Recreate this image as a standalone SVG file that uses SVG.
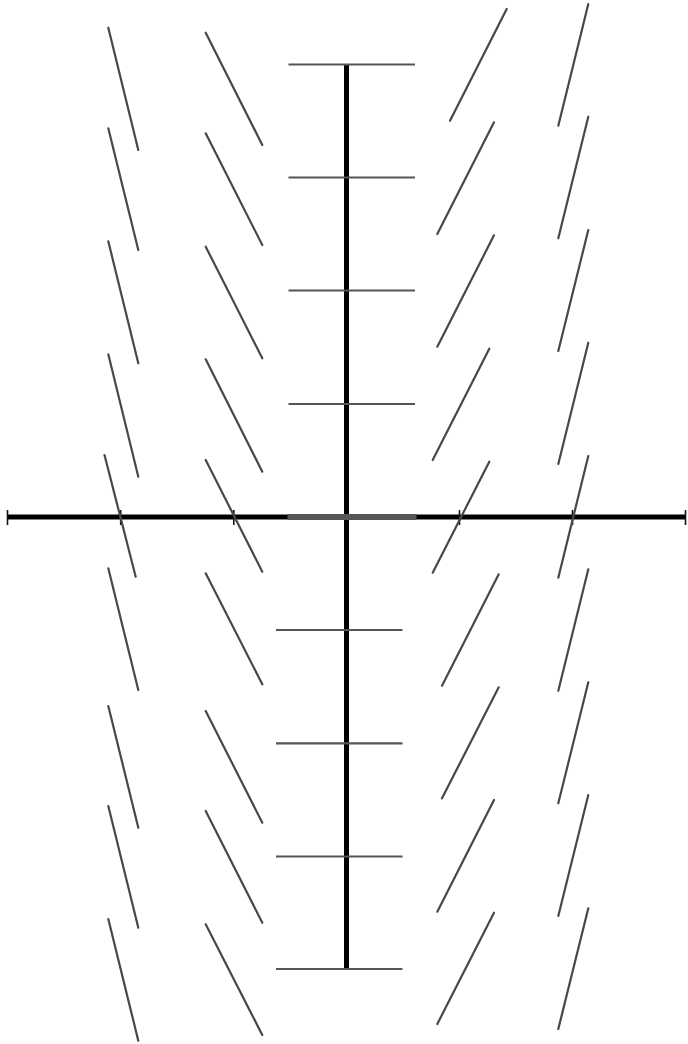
<svg xmlns="http://www.w3.org/2000/svg" width="688" height="1044" viewBox="0 0 688 1044">
<style>
.seg{stroke:#484848;stroke-width:2.2;stroke-linecap:round;fill:none}
.grid{stroke:#555;stroke-width:2.2;fill:none}
.axis{stroke:#000;stroke-width:5;fill:none}
.tick{stroke:#111;stroke-width:1.6;fill:none}
</style>
<rect width="688" height="1044" fill="#fff"/>
<g id="axes">
<line class="axis" x1="346.5" y1="64" x2="346.5" y2="969"/>
<line class="axis" x1="7" y1="517" x2="686" y2="517"/>
<line class="tick" x1="7.5" y1="510" x2="7.5" y2="525"/>
<line class="tick" x1="120.7" y1="510" x2="120.7" y2="525"/>
<line class="tick" x1="233.8" y1="510" x2="233.8" y2="525"/>
<line class="tick" x1="459.5" y1="510" x2="459.5" y2="525"/>
<line class="tick" x1="572.5" y1="510" x2="572.5" y2="525"/>
<line class="tick" x1="685.5" y1="510" x2="685.5" y2="525"/>
</g>
<g id="y-grid">
<line class="grid" x1="288.5" y1="64.5" x2="415" y2="64.5"/>
<line class="grid" x1="288.5" y1="177.5" x2="415" y2="177.5"/>
<line class="grid" x1="288.5" y1="290.5" x2="415" y2="290.5"/>
<line class="grid" x1="288.5" y1="404" x2="415" y2="404"/>
<line x1="287.5" y1="517" x2="416.5" y2="517" stroke="#555" stroke-width="6"/>
<line class="grid" x1="276" y1="630" x2="402.5" y2="630"/>
<line class="grid" x1="276" y1="743.3" x2="402.5" y2="743.3"/>
<line class="grid" x1="276" y1="856.5" x2="402.5" y2="856.5"/>
<line class="grid" x1="276" y1="969" x2="402.5" y2="969"/>
</g>
<g id="connectors">
<line class="seg" x1="108.3" y1="27.7" x2="138.3" y2="150"/>
<line class="seg" x1="108.3" y1="128.3" x2="138.3" y2="250"/>
<line class="seg" x1="108.3" y1="241.3" x2="138.3" y2="363.3"/>
<line class="seg" x1="108.3" y1="354.3" x2="138.3" y2="476.7"/>
<line class="seg" x1="104.5" y1="455" x2="135.7" y2="576.7"/>
<line class="seg" x1="108.3" y1="568.3" x2="138.3" y2="690"/>
<line class="seg" x1="108.3" y1="706" x2="138.3" y2="827.7"/>
<line class="seg" x1="108.3" y1="806" x2="138.3" y2="927.7"/>
<line class="seg" x1="108.3" y1="919" x2="138.3" y2="1040.7"/>

<line class="seg" x1="205.7" y1="32.7" x2="262.3" y2="145"/>
<line class="seg" x1="205.7" y1="133.3" x2="262.3" y2="245"/>
<line class="seg" x1="205.7" y1="246.7" x2="262.3" y2="358.3"/>
<line class="seg" x1="205.7" y1="359.3" x2="262.3" y2="471.7"/>
<line class="seg" x1="205.7" y1="460" x2="262.3" y2="571.7"/>
<line class="seg" x1="205.7" y1="573.3" x2="262.3" y2="684.3"/>
<line class="seg" x1="205.7" y1="711" x2="262.3" y2="822.7"/>
<line class="seg" x1="205.7" y1="811" x2="262.3" y2="922.7"/>
<line class="seg" x1="205.7" y1="924.3" x2="262.3" y2="1035"/>

<line class="seg" x1="506.7" y1="9" x2="450" y2="120.7"/>
<line class="seg" x1="494" y1="122.3" x2="437.3" y2="234"/>
<line class="seg" x1="494" y1="235.3" x2="437.3" y2="346.7"/>
<line class="seg" x1="489.3" y1="348.7" x2="432.7" y2="460"/>
<line class="seg" x1="489.3" y1="461.7" x2="432.7" y2="572.7"/>
<line class="seg" x1="498.7" y1="574.3" x2="442" y2="685.7"/>
<line class="seg" x1="498.7" y1="687.3" x2="442" y2="798.3"/>
<line class="seg" x1="494" y1="800" x2="437.3" y2="911.7"/>
<line class="seg" x1="494" y1="912.7" x2="437.3" y2="1024"/>

<line class="seg" x1="588.3" y1="4" x2="558.3" y2="125.7"/>
<line class="seg" x1="588.3" y1="116.7" x2="558.3" y2="238.3"/>
<line class="seg" x1="588.3" y1="230" x2="558.3" y2="351"/>
<line class="seg" x1="588.3" y1="342.7" x2="558.3" y2="464"/>
<line class="seg" x1="588.3" y1="456" x2="558.3" y2="577.7"/>
<line class="seg" x1="588.3" y1="569.3" x2="558.3" y2="690.7"/>
<line class="seg" x1="588.3" y1="682.3" x2="558.3" y2="803.3"/>
<line class="seg" x1="588.3" y1="795" x2="558.3" y2="916"/>
<line class="seg" x1="588.3" y1="908.3" x2="558.3" y2="1029"/>
</g>
</svg>
